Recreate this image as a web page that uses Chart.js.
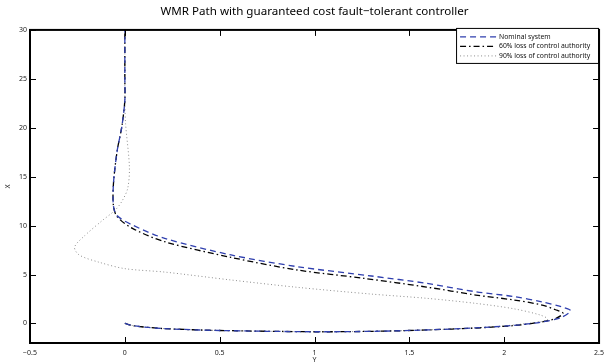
<!DOCTYPE html>
<html>
<head>
<meta charset="utf-8">
<script src="https://cdn.jsdelivr.net/npm/chart.js@4.4.0/dist/chart.umd.min.js"></script>
<style>
html, body { margin: 0; padding: 0; background: #fff; }
#wrap { width: 610px; height: 364px; }
</style>
</head>
<body>
<div id="wrap"><canvas id="grafico"></canvas></div>
<script>
// horizontal axis is "Y", vertical axis is "X"
var nominalY = [0, 0.05, 0.2, 0.5, 1.0, 1.33, 1.6, 1.85, 2.05, 2.2, 2.3, 2.35, 2.3, 2.2, 2.05, 1.85, 1.59, 1.3, 0.91, 0.56, 0.21, 0.04, -0.04, -0.06, -0.06, -0.04, -0.016, 0, 0, 0];
var nominalX = [0, -0.25, -0.52, -0.72, -0.85, -0.8, -0.66, -0.45, -0.2, 0.15, 0.6, 1.3, 1.71, 2.2, 2.75, 3.24, 4.1, 4.85, 5.8, 7.0, 8.7, 10.06, 11.0, 12.0, 14.3, 17.7, 20.1, 22.8, 25, 30];

var loss60Y = [0, 0.05, 0.2, 0.5, 1.0, 1.33, 1.6, 1.85, 2.05, 2.18, 2.27, 2.31, 2.27, 2.2, 2.05, 1.85, 1.59, 1.26, 0.91, 0.56, 0.21, 0.04, -0.04, -0.06, -0.06, -0.04, -0.016, 0, 0, 0];
var loss60X = [0, -0.25, -0.52, -0.72, -0.85, -0.8, -0.66, -0.47, -0.22, 0.1, 0.5, 1.03, 1.4, 1.88, 2.4, 2.9, 3.72, 4.61, 5.46, 6.75, 8.35, 9.72, 10.9, 12.0, 14.3, 17.7, 20.1, 22.8, 25, 30];

var loss90Y = [0, 0.05, 0.2, 0.5, 1.0, 1.33, 1.6, 1.85, 2.0, 2.1, 2.2, 2.23, 2.19, 2.05, 1.85, 1.59, 1.3, 0.91, 0.56, 0.21, 0.0, -0.135, -0.24, -0.265, -0.21, -0.12, -0.05, -0.015, 0.015, 0.024, 0.004, 0, 0, 0];
var loss90X = [0, -0.25, -0.52, -0.72, -0.85, -0.8, -0.66, -0.45, -0.25, -0.05, 0.2, 0.45, 0.86, 1.5, 2.05, 2.57, 3.0, 3.69, 4.44, 5.25, 5.6, 6.25, 6.99, 7.8, 9.0, 10.5, 11.6, 12.5, 13.8, 16.0, 20.4, 22.8, 25, 30];

var ticksY = [-0.5, 0, 0.5, 1, 1.5, 2, 2.5];
var ticksX = [0, 5, 10, 15, 20, 25, 30];

var seriesNames = ["Nominal system", "60% loss of control authority", "90% loss of control authority"];

var fuente = "'Noto Sans', 'Open Sans', sans-serif";

function armarPuntos(hs, vs)
{
    var puntos = [];
    for (var i = 0; i < hs.length; i++) {
        puntos.push({x: hs[i], y: vs[i]});
    }
    return puntos;
}

function formatoTick(v)
{
    return String(v).replace("-", "\u2212");
}

var estilos = [
    {color: "#2f3fae", dash: [6, 4], width: 1.3},
    {color: "#000000", dash: [6, 3, 1.5, 3], width: 1.3},
    {color: "#8c8c8c", dash: [1, 2.5], width: 1}
];

// inside ticks and the box round the axes, MATLAB style
var cajaEjes = {
    id: "cajaEjes",
    afterDatasetsDraw: function (chart) {
        var ctx = chart.ctx;
        var a = chart.chartArea;
        var sx = chart.scales.x;
        var sy = chart.scales.y;
        ctx.save();
        ctx.strokeStyle = "#000";
        ctx.lineWidth = 1;
        ctx.beginPath();
        sx.ticks.forEach(function (t) {
            var px = Math.round(sx.getPixelForValue(t.value)) + 0.5;
            ctx.moveTo(px, a.bottom); ctx.lineTo(px, a.bottom - 6);
            ctx.moveTo(px, a.top); ctx.lineTo(px, a.top + 6);
        });
        sy.ticks.forEach(function (t) {
            var py = Math.round(sy.getPixelForValue(t.value)) + 0.5;
            ctx.moveTo(a.left, py); ctx.lineTo(a.left + 6, py);
            ctx.moveTo(a.right, py); ctx.lineTo(a.right - 6, py);
        });
        ctx.stroke();
        ctx.lineWidth = 2;
        ctx.strokeRect(a.left, a.top, a.right - a.left, a.bottom - a.top);
        ctx.restore();
    }
};

var leyenda = {
    id: "leyenda",
    afterDraw: function (chart) {
        var ctx = chart.ctx;
        var a = chart.chartArea;
        var x0 = a.right - 143, y0 = a.top - 2, w = 142, h = 35;
        ctx.save();
        ctx.fillStyle = "#fff";
        ctx.fillRect(x0, y0, w, h);
        ctx.strokeStyle = "#000";
        ctx.lineWidth = 1;
        ctx.strokeRect(x0 + 0.5, y0 + 0.5, w, h);
        ctx.font = "6.8px " + fuente;
        ctx.textBaseline = "middle";
        for (var i = 0; i < seriesNames.length; i++) {
            var yy = y0 + 9 + i * 9.5;
            ctx.beginPath();
            ctx.strokeStyle = estilos[i].color;
            ctx.lineWidth = estilos[i].width;
            ctx.setLineDash(estilos[i].dash);
            ctx.moveTo(x0 + 4, yy);
            ctx.lineTo(x0 + 40, yy);
            ctx.stroke();
            ctx.setLineDash([]);
            ctx.fillStyle = "#111";
            ctx.fillText(seriesNames[i], x0 + 43, yy);
        }
        ctx.restore();
    }
};

var datasets = [];
var pares = [[nominalY, nominalX], [loss60Y, loss60X], [loss90Y, loss90X]];
for (var i = 0; i < pares.length; i++) {
    datasets.push({
        label: seriesNames[i],
        data: armarPuntos(pares[i][0], pares[i][1]),
        showLine: true,
        fill: false,
        borderColor: estilos[i].color,
        borderWidth: estilos[i].width,
        borderDash: estilos[i].dash,
        pointRadius: 0,
        tension: 0.3
    });
}

new Chart(document.getElementById("grafico"), {
    type: "scatter",
    data: {datasets: datasets},
    options: {
        responsive: true,
        maintainAspectRatio: false,
        animation: false,
        layout: {padding: {top: 0, right: 5, left: 0, bottom: 0}},
        plugins: {
            legend: {display: false},
            tooltip: {enabled: false},
            title: {
                display: true,
                fullSize: false,
                text: "WMR Path with guaranteed cost fault\u2212tolerant controller",
                color: "#000",
                font: {family: fuente, size: 11.6, weight: "normal"},
                padding: {top: 5, bottom: 11}
            }
        },
        scales: {
            x: {
                type: "linear",
                min: -0.5,
                max: 2.5,
                afterBuildTicks: function (scale) {
                    scale.ticks = ticksY.map(function (v) { return {value: v}; });
                },
                afterFit: function (scale) { scale.height = 21; },
                grid: {display: false, drawTicks: false},
                border: {display: false},
                ticks: {
                    color: "#222",
                    font: {family: fuente, size: 7},
                    padding: 6,
                    maxRotation: 0,
                    callback: function (v) { return formatoTick(v); }
                },
                title: {display: true, text: "Y", color: "#222", font: {family: fuente, size: 7}, padding: 0}
            },
            y: {
                type: "linear",
                min: -2,
                max: 30,
                afterBuildTicks: function (scale) {
                    scale.ticks = ticksX.map(function (v) { return {value: v}; });
                },
                afterFit: function (scale) { scale.width = 30; },
                grid: {display: false, drawTicks: false},
                border: {display: false},
                ticks: {
                    color: "#222",
                    font: {family: fuente, size: 7},
                    padding: 3,
                    callback: function (v) { return formatoTick(v); }
                },
                title: {display: true, text: "X", color: "#222", font: {family: fuente, size: 7}, padding: 4}
            }
        }
    },
    plugins: [cajaEjes, leyenda]
});
</script>
</body>
</html>
